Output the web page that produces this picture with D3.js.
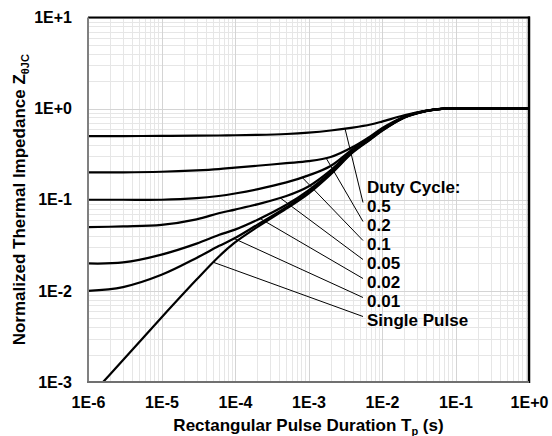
<!DOCTYPE html>
<html>
<head>
<meta charset="utf-8">
<script src="https://cdn.jsdelivr.net/npm/d3@7"></script>
<style>
  body { margin: 0; background: #fff; }
  text { font-family: "Liberation Sans", Arial, Helvetica, sans-serif; font-weight: bold; fill: #000; }
</style>
</head>
<body>
<svg id="chart" width="552" height="436"></svg>
<script>
// Pulse durations (s) at which each curve is sampled
const durations = [1e-6, 3e-6, 1e-5, 3e-5, 6e-5, 1e-4, 2e-4, 5e-4, 1e-3, 2e-3, 4e-3, 7e-3, 1e-2, 2e-2, 4e-2, 7e-2, 1e-1, 1];

// Normalized thermal impedance per duty cycle
const zDuty050 = [0.5, 0.5, 0.502, 0.505, 0.507, 0.51, 0.515, 0.527, 0.545, 0.575, 0.62, 0.67, 0.72, 0.845, 0.95, 1, 1, 1];
const zDuty020 = [0.2, 0.2, 0.203, 0.21, 0.217, 0.225, 0.236, 0.252, 0.265, 0.295, 0.38, 0.5, 0.61, 0.815, 0.947, 1, 1, 1];
const zDuty010 = [0.1, 0.1, 0.1, 0.104, 0.11, 0.117, 0.13, 0.155, 0.185, 0.235, 0.36, 0.48, 0.59, 0.81, 0.945, 1, 1, 1];
const zDuty005 = [0.05, 0.051, 0.053, 0.061, 0.071, 0.078, 0.089, 0.11, 0.14, 0.21, 0.35, 0.475, 0.585, 0.805, 0.944, 1, 1, 1];
const zDuty002 = [0.02, 0.0205, 0.025, 0.033, 0.041, 0.047, 0.06, 0.088, 0.127, 0.2, 0.34, 0.47, 0.58, 0.8, 0.943, 1, 1, 1];
const zDuty001 = [0.01, 0.011, 0.015, 0.023, 0.031, 0.038, 0.053, 0.083, 0.121, 0.195, 0.335, 0.465, 0.575, 0.8, 0.942, 1, 1, 1];
const zSingle  = [0.00066, 0.00174, 0.0051, 0.0133, 0.0237, 0.034, 0.05, 0.08, 0.117, 0.19, 0.33, 0.46, 0.57, 0.795, 0.94, 1, 1, 1];

const seriesNames = ["0.5", "0.2", "0.1", "0.05", "0.02", "0.01", "Single Pulse"];
const seriesValues = [zDuty050, zDuty020, zDuty010, zDuty005, zDuty002, zDuty001, zSingle];
// Duration on each curve where its callout line starts
const calloutDurations = [3.14e-3, 1.73e-3, 8.2e-4, 4.1e-4, 2.19e-4, 9.7e-5, 5.07e-5];

const xTickValues = [1e-6, 1e-5, 1e-4, 1e-3, 1e-2, 1e-1, 1];
const xTickLabels = ["1E-6", "1E-5", "1E-4", "1E-3", "1E-2", "1E-1", "1E+0"];
const yTickValues = [1e-3, 1e-2, 1e-1, 1, 10];
const yTickLabels = ["1E-3", "1E-2", "1E-1", "1E+0", "1E+1"];

const svg = d3.select("#chart");
const plot = { left: 88, right: 529, top: 17.5, bottom: 382 };

const x = d3.scaleLog().domain([1e-6, 1]).range([plot.left, plot.right]);
const y = d3.scaleLog().domain([1e-3, 10]).range([plot.bottom, plot.top]);

// Grid: minor lines at 2..9 of each decade, then decade lines
const minorX = [], minorY = [];
for (let e = -6; e < 0; e++) for (let k = 2; k <= 9; k++) minorX.push(k * Math.pow(10, e));
for (let e = -3; e < 1; e++) for (let k = 2; k <= 9; k++) minorY.push(k * Math.pow(10, e));

const grid = svg.append("g").attr("shape-rendering", "crispEdges");
grid.selectAll(".mx").data(minorX).join("line")
  .attr("x1", d => Math.round(x(d)) + 0.5).attr("x2", d => Math.round(x(d)) + 0.5)
  .attr("y1", plot.top).attr("y2", plot.bottom)
  .attr("stroke", "#e6e6e6").attr("stroke-width", 1);
grid.selectAll(".my").data(minorY).join("line")
  .attr("y1", d => Math.round(y(d)) + 0.5).attr("y2", d => Math.round(y(d)) + 0.5)
  .attr("x1", plot.left).attr("x2", plot.right)
  .attr("stroke", "#e6e6e6").attr("stroke-width", 1);
grid.selectAll(".Mx").data(xTickValues).join("line")
  .attr("x1", d => Math.round(x(d)) + 0.5).attr("x2", d => Math.round(x(d)) + 0.5)
  .attr("y1", plot.top).attr("y2", plot.bottom)
  .attr("stroke", "#d4d4d4").attr("stroke-width", 1);
grid.selectAll(".My").data(yTickValues).join("line")
  .attr("y1", d => Math.round(y(d)) + 0.5).attr("y2", d => Math.round(y(d)) + 0.5)
  .attr("x1", plot.left).attr("x2", plot.right)
  .attr("stroke", "#d4d4d4").attr("stroke-width", 1);

// Curves
svg.append("clipPath").attr("id", "plotClip").append("rect")
  .attr("x", plot.left).attr("y", plot.top)
  .attr("width", plot.right - plot.left).attr("height", plot.bottom - plot.top);

const line = d3.line()
  .x(d => x(d[0]))
  .y(d => y(d[1]))
  .curve(d3.curveCatmullRom.alpha(0.5));

svg.append("g").attr("clip-path", "url(#plotClip)")
  .selectAll("path").data(seriesValues).join("path")
  .attr("d", vals => line(durations.map((t, i) => [t, vals[i]])))
  .attr("fill", "none").attr("stroke", "#000").attr("stroke-width", 2.2)
  .attr("stroke-linejoin", "round");

// Frame: grey left/bottom axes, black top/right border
svg.append("line").attr("x1", plot.left).attr("x2", plot.right + 1).attr("y1", plot.top).attr("y2", plot.top)
  .attr("stroke", "#000").attr("stroke-width", 2);
svg.append("line").attr("x1", plot.right).attr("x2", plot.right).attr("y1", plot.top - 1).attr("y2", plot.bottom + 1)
  .attr("stroke", "#000").attr("stroke-width", 2.5);
svg.append("line").attr("x1", plot.left).attr("x2", plot.left).attr("y1", plot.top).attr("y2", plot.bottom + 1)
  .attr("stroke", "#808080").attr("stroke-width", 2);
svg.append("line").attr("x1", plot.left - 1).attr("x2", plot.right).attr("y1", plot.bottom).attr("y2", plot.bottom)
  .attr("stroke", "#707070").attr("stroke-width", 2);

// Axis tick labels
const xAxis = d3.axisBottom(x).tickValues(xTickValues)
  .tickFormat((d, i) => xTickLabels[i]).tickSize(0).tickPadding(15);
const gx = svg.append("g").attr("transform", `translate(0,${plot.bottom})`).call(xAxis);
gx.select(".domain").remove();
gx.selectAll("text").attr("font-size", 16).attr("font-family", null).attr("fill", "#000");

const yAxis = d3.axisLeft(y).tickValues(yTickValues)
  .tickFormat((d, i) => yTickLabels[i]).tickSize(0).tickPadding(16);
const gy = svg.append("g").attr("transform", `translate(${plot.left},0)`).call(yAxis);
gy.select(".domain").remove();
gy.selectAll("text").attr("font-size", 16).attr("font-family", null).attr("fill", "#000");

// Axis titles
const xTitle = svg.append("text").attr("x", (plot.left + plot.right) / 2).attr("y", 431)
  .attr("text-anchor", "middle").attr("font-size", 17);
xTitle.append("tspan").text("Rectangular Pulse Duration T");
xTitle.append("tspan").attr("font-size", 11).attr("dy", 4).text("p");
xTitle.append("tspan").attr("dy", -4).text(" (s)");

const yTitle = svg.append("text")
  .attr("transform", `translate(25,${(plot.top + plot.bottom) / 2}) rotate(-90)`)
  .attr("text-anchor", "middle").attr("font-size", 17);
yTitle.append("tspan").text("Normalized Thermal Impedance Z");
yTitle.append("tspan").attr("font-size", 11).attr("dy", 4).text("θJC");

// Callout labels
const labelX = 367, headerBaseline = 193, labelStep = 19;
svg.append("text").attr("x", labelX).attr("y", headerBaseline).attr("font-size", 17).text("Duty Cycle:");

function zAt(vals, t) {
  const lt = Math.log10(t);
  for (let i = 0; i < durations.length - 1; i++) {
    const a = Math.log10(durations[i]), b = Math.log10(durations[i + 1]);
    if (lt >= a && lt <= b) {
      const f = (lt - a) / (b - a);
      return Math.pow(10, Math.log10(vals[i]) + f * (Math.log10(vals[i + 1]) - Math.log10(vals[i])));
    }
  }
  return vals[vals.length - 1];
}

seriesNames.forEach((name, i) => {
  const baseline = headerBaseline + labelStep * (i + 1);
  const t = calloutDurations[i];
  svg.append("line")
    .attr("x1", x(t)).attr("y1", y(zAt(seriesValues[i], t)))
    .attr("x2", labelX - 4).attr("y2", baseline - 9.5)
    .attr("stroke", "#000").attr("stroke-width", 1);
  svg.append("text").attr("x", labelX).attr("y", baseline).attr("font-size", 17).text(name);
});
</script>
</body>
</html>
